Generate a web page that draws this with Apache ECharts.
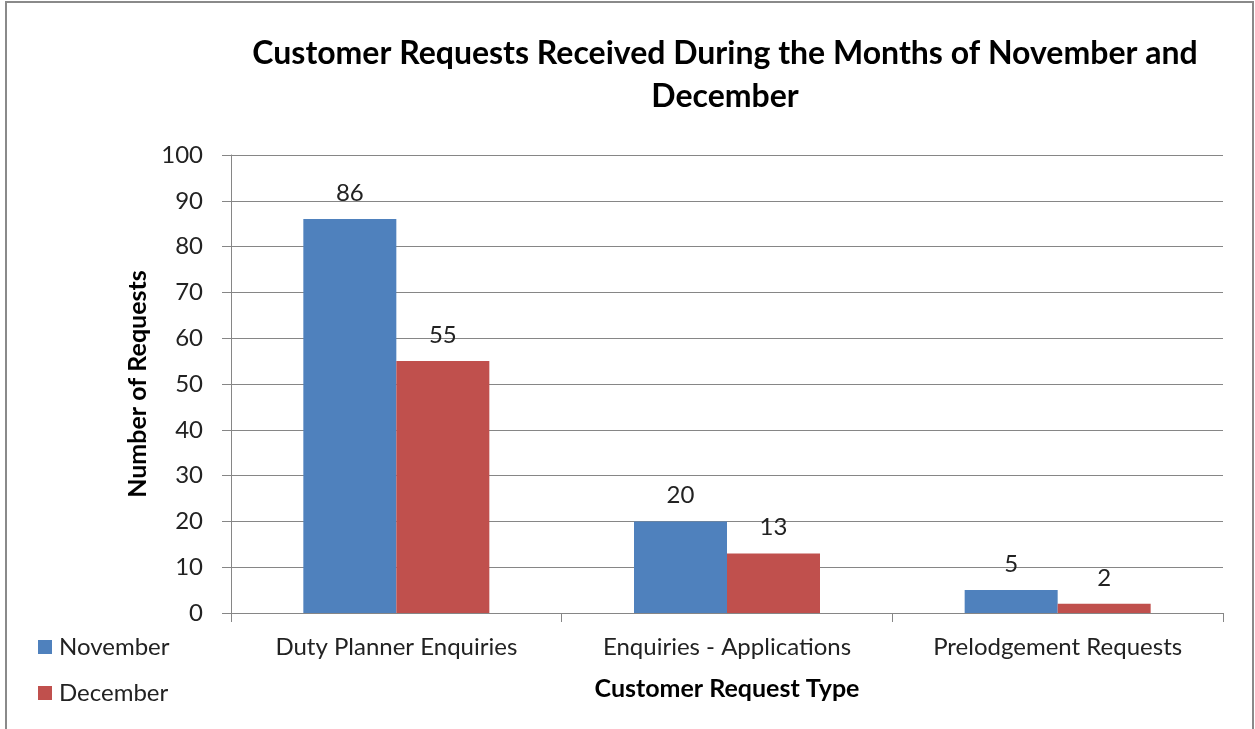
<!DOCTYPE html>
<html>
<head>
<meta charset="utf-8">
<script src="https://cdn.jsdelivr.net/npm/echarts@6/dist/echarts.min.js"></script>
<style>
  html, body { margin: 0; padding: 0; background: #fff; }
  #chart { width: 1255px; height: 729px; }
</style>
</head>
<body>
<div id="chart"></div>
<script>
const categories = ["Duty Planner Enquiries", "Enquiries - Applications", "Prelodgement Requests"];
const november = [86, 20, 5];
const december = [55, 13, 2];
const seriesNames = ["November", "December"];

const font = "Lato, 'Noto Sans', sans-serif";
const gray = "#868686";

const myChart = echarts.init(document.getElementById("chart"));
myChart.setOption({
  animation: false,
  backgroundColor: "#fff",
  textStyle: { fontFamily: font },
  title: {
    text: "Customer Requests Received During the Months of November and\nDecember",
    left: 720,
    top: 27,
    textAlign: "center",
    textStyle: {
      fontFamily: font,
      fontSize: 32,
      fontWeight: "bold",
      color: "#000",
      lineHeight: 43
    }
  },
  graphic: [
    {
      type: "rect",
      shape: { x: 6, y: 2, width: 1247, height: 800 },
      style: { fill: "none", stroke: "#8a8a8a", lineWidth: 2 },
      silent: true
    }
  ],
  legend: {
    orient: "vertical",
    left: 33,
    top: 630,
    itemWidth: 14,
    itemHeight: 14,
    itemGap: 22,
    icon: "rect",
    data: seriesNames,
    textStyle: { fontFamily: font, fontSize: 24, color: "#222", padding: [0, 0, 0, 2] }
  },
  grid: {
    left: 231,
    right: 32,
    top: 155,
    bottom: 116
  },
  xAxis: {
    type: "category",
    data: categories,
    name: "Customer Request Type",
    nameLocation: "middle",
    nameGap: 63,
    nameTextStyle: { fontFamily: font, fontSize: 25, fontWeight: "bold", color: "#000" },
    axisLine: { lineStyle: { color: gray, width: 1 } },
    axisTick: { show: true, length: 9, lineStyle: { color: gray } },
    axisLabel: { margin: 22, fontSize: 24, color: "#222", fontFamily: font }
  },
  yAxis: {
    type: "value",
    min: 0,
    max: 100,
    interval: 10,
    name: "Number of Requests",
    nameLocation: "middle",
    nameGap: 73,
    nameTextStyle: { fontFamily: font, fontSize: 25, fontWeight: "bold", color: "#000" },
    axisLine: { show: true, lineStyle: { color: gray, width: 1 } },
    axisTick: { show: true, length: 9, lineStyle: { color: gray } },
    axisLabel: { margin: 28, fontSize: 24, color: "#222", fontFamily: font },
    splitLine: { lineStyle: { color: gray, width: 1 } }
  },
  series: [
    {
      name: seriesNames[0],
      type: "bar",
      data: november,
      barWidth: 93,
      barGap: "0%",
      itemStyle: { color: "#4F81BD" },
      label: { show: true, position: "top", distance: 14, fontSize: 24, color: "#222", fontFamily: font }
    },
    {
      name: seriesNames[1],
      type: "bar",
      data: december,
      barWidth: 93,
      barGap: "0%",
      itemStyle: { color: "#C0504D" },
      label: { show: true, position: "top", distance: 14, fontSize: 24, color: "#222", fontFamily: font }
    }
  ]
});
</script>
</body>
</html>
